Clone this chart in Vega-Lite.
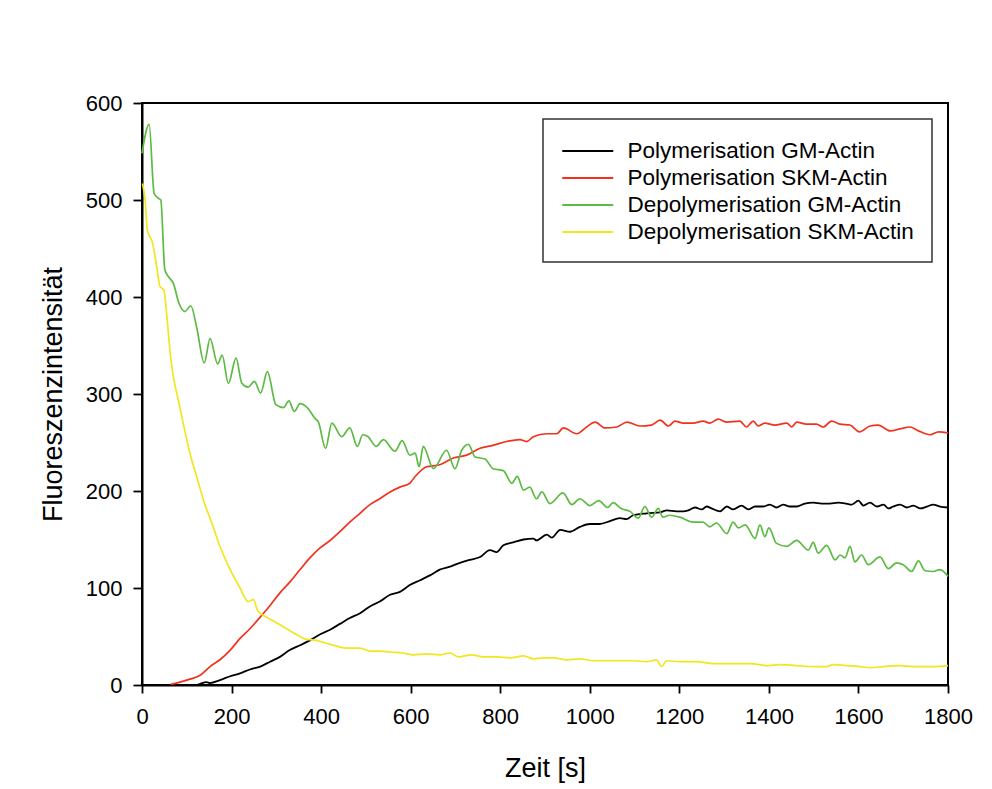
{
  "$schema": "https://vega.github.io/schema/vega-lite/v6.json",
  "width": 806,
  "height": 582,
  "autosize": {"type": "none"},
  "padding": {"left": 142, "top": 103, "right": 44, "bottom": 104},
  "background": "white",
  "config": {
    "font": "Liberation Sans",
    "view": {"stroke": "black", "strokeWidth": 2},
    "axis": {
      "grid": false,
      "domainColor": "black",
      "domainWidth": 2,
      "tickColor": "black",
      "tickWidth": 1.8,
      "labelColor": "black",
      "titleColor": "black",
      "labelFontSize": 22,
      "titleFontSize": 27,
      "titleFontWeight": "normal",
      "labelFont": "Liberation Sans",
      "titleFont": "Liberation Sans"
    },
    "legend": {
      "labelFont": "Liberation Sans"
    }
  },
  "encoding": {
    "x": {
      "field": "t",
      "type": "quantitative",
      "scale": {"domain": [0, 1800], "nice": false, "zero": false},
      "axis": {
        "title": "Zeit [s]",
        "format": "d",
        "values": [0, 200, 400, 600, 800, 1000, 1200, 1400, 1600, 1800],
        "tickSize": 8,
        "labelPadding": 13,
        "titlePadding": 28,
        "labelFlush": false,
        "labelOverlap": false
      }
    },
    "y": {
      "field": "v",
      "type": "quantitative",
      "scale": {"domain": [0, 600], "nice": false},
      "axis": {
        "title": "Fluoreszenzintensität",
        "format": "d",
        "values": [0, 100, 200, 300, 400, 500, 600],
        "tickSize": 9,
        "labelPadding": 11,
        "titlePadding": 18,
        "labelFlush": false,
        "labelOverlap": false
      }
    }
  },
  "layer": [
    {
      "data": {"values": [
        {"t":125,"v":0.5},{"t":129,"v":1},{"t":144,"v":3},{"t":152,"v":2},{"t":174,"v":5},{"t":197,"v":9},{"t":219,"v":12},{"t":241,"v":16},{"t":264,"v":19},{"t":286,"v":24},{"t":308,"v":29},{"t":330,"v":36},{"t":353,"v":41},{"t":375,"v":46},{"t":397,"v":52},{"t":420,"v":57},{"t":442,"v":63},{"t":464,"v":69},{"t":487,"v":74},{"t":509,"v":81},{"t":531,"v":86},{"t":554,"v":93},{"t":576,"v":96},{"t":598,"v":103},{"t":621,"v":108},{"t":643,"v":113},{"t":665,"v":119},{"t":688,"v":122},{"t":710,"v":126},{"t":732,"v":129},{"t":755,"v":132},{"t":777,"v":139},{"t":792,"v":137},{"t":807,"v":144},{"t":829,"v":147},{"t":852,"v":150},{"t":874,"v":151},{"t":881,"v":149},{"t":904,"v":155},{"t":915,"v":152},{"t":934,"v":160},{"t":956,"v":158},{"t":978,"v":163},{"t":1000,"v":166},{"t":1022,"v":166},{"t":1045,"v":169},{"t":1067,"v":172},{"t":1082,"v":171},{"t":1097,"v":175},{"t":1127,"v":177},{"t":1157,"v":178},{"t":1172,"v":180},{"t":1194,"v":179},{"t":1209,"v":179},{"t":1220,"v":180},{"t":1235,"v":183},{"t":1250,"v":181},{"t":1261,"v":184},{"t":1272,"v":182},{"t":1291,"v":179},{"t":1306,"v":184},{"t":1320,"v":181},{"t":1339,"v":185},{"t":1354,"v":181},{"t":1369,"v":184},{"t":1388,"v":184},{"t":1402,"v":186},{"t":1417,"v":183},{"t":1432,"v":186},{"t":1447,"v":184},{"t":1462,"v":184},{"t":1480,"v":187},{"t":1499,"v":188},{"t":1518,"v":187},{"t":1536,"v":187},{"t":1555,"v":188},{"t":1573,"v":187},{"t":1585,"v":186},{"t":1600,"v":190},{"t":1611,"v":185},{"t":1626,"v":188},{"t":1641,"v":184},{"t":1656,"v":186},{"t":1667,"v":182},{"t":1678,"v":184},{"t":1693,"v":186},{"t":1708,"v":183},{"t":1723,"v":185},{"t":1738,"v":182},{"t":1753,"v":184},{"t":1767,"v":186},{"t":1782,"v":184},{"t":1800,"v":183}
      ]},
      "mark": {"type": "line", "interpolate": "monotone", "strokeWidth": 1.8},
      "encoding": {
        "color": {
          "datum": "Polymerisation GM-Actin",
          "type": "nominal",
          "scale": {
            "domain": ["Polymerisation GM-Actin", "Polymerisation SKM-Actin", "Depolymerisation GM-Actin", "Depolymerisation SKM-Actin"],
            "range": ["#000000", "#f2321e", "#5dba43", "#f2e61e"]
          },
          "legend": {
            "title": null,
            "orient": "top-right",
            "offset": 16,
            "fillColor": "white",
            "strokeColor": "#333333",
            "padding": 18,
            "labelFontSize": 22.5,
            "labelColor": "black",
            "labelOffset": 38.5,
            "rowPadding": 1,
            "symbolType": "M-1,0H3",
            "symbolSize": 650,
            "symbolStrokeWidth": 1.8,
            "labelLimit": 400,
            "encode": {"legend": {"update": {"strokeWidth": {"value": 1.5}}}}
          }
        }
      }
    },
    {
      "data": {"values": [
        {"t":64,"v":0.7},{"t":77,"v":2},{"t":107,"v":6},{"t":130,"v":10},{"t":152,"v":19},{"t":174,"v":26},{"t":197,"v":36},{"t":219,"v":48},{"t":241,"v":58},{"t":264,"v":70},{"t":286,"v":82},{"t":308,"v":95},{"t":330,"v":106},{"t":353,"v":119},{"t":375,"v":131},{"t":397,"v":141},{"t":420,"v":149},{"t":442,"v":158},{"t":464,"v":168},{"t":487,"v":177},{"t":509,"v":186},{"t":531,"v":192},{"t":554,"v":199},{"t":576,"v":204},{"t":598,"v":208},{"t":610,"v":215},{"t":636,"v":225},{"t":665,"v":227},{"t":695,"v":234},{"t":725,"v":237},{"t":755,"v":244},{"t":784,"v":247},{"t":814,"v":251},{"t":844,"v":253},{"t":859,"v":251},{"t":874,"v":256},{"t":904,"v":259},{"t":926,"v":259},{"t":941,"v":265},{"t":971,"v":259},{"t":993,"v":266},{"t":1012,"v":271},{"t":1034,"v":265},{"t":1060,"v":266},{"t":1083,"v":271},{"t":1112,"v":267},{"t":1138,"v":268},{"t":1157,"v":273},{"t":1176,"v":267},{"t":1190,"v":272},{"t":1209,"v":270},{"t":1231,"v":270},{"t":1253,"v":272},{"t":1268,"v":270},{"t":1287,"v":274},{"t":1306,"v":271},{"t":1335,"v":272},{"t":1350,"v":266},{"t":1365,"v":272},{"t":1376,"v":267},{"t":1391,"v":270},{"t":1413,"v":268},{"t":1440,"v":270},{"t":1451,"v":266},{"t":1462,"v":271},{"t":1484,"v":269},{"t":1506,"v":269},{"t":1521,"v":266},{"t":1540,"v":272},{"t":1559,"v":269},{"t":1581,"v":268},{"t":1602,"v":261},{"t":1626,"v":267},{"t":1644,"v":268},{"t":1671,"v":262},{"t":1693,"v":264},{"t":1715,"v":266},{"t":1734,"v":262},{"t":1760,"v":258},{"t":1779,"v":261},{"t":1800,"v":260}
      ]},
      "mark": {"type": "line", "interpolate": "monotone", "strokeWidth": 1.7},
      "encoding": {"color": {"datum": "Polymerisation SKM-Actin", "type": "nominal"}}
    },
    {
      "data": {"values": [
        {"t":0,"v":548},{"t":16,"v":578},{"t":27,"v":507},{"t":36,"v":502},{"t":42,"v":500},{"t":51,"v":428},{"t":59,"v":421},{"t":70,"v":414},{"t":83,"v":393},{"t":96,"v":385},{"t":109,"v":391},{"t":122,"v":369},{"t":139,"v":332},{"t":152,"v":357},{"t":169,"v":331},{"t":179,"v":340},{"t":193,"v":311},{"t":210,"v":337},{"t":223,"v":311},{"t":237,"v":307},{"t":251,"v":313},{"t":265,"v":301},{"t":280,"v":323},{"t":299,"v":289},{"t":316,"v":286},{"t":328,"v":293},{"t":340,"v":282},{"t":353,"v":290},{"t":371,"v":285},{"t":386,"v":275},{"t":394,"v":271},{"t":410,"v":244},{"t":424,"v":270},{"t":446,"v":256},{"t":464,"v":265},{"t":481,"v":246},{"t":493,"v":258},{"t":505,"v":256},{"t":523,"v":246},{"t":539,"v":253},{"t":565,"v":241},{"t":581,"v":252},{"t":598,"v":237},{"t":610,"v":239},{"t":619,"v":225},{"t":628,"v":246},{"t":651,"v":223},{"t":680,"v":242},{"t":699,"v":223},{"t":714,"v":242},{"t":729,"v":248},{"t":744,"v":235},{"t":766,"v":233},{"t":784,"v":223},{"t":807,"v":221},{"t":826,"v":208},{"t":838,"v":215},{"t":852,"v":201},{"t":866,"v":204},{"t":881,"v":192},{"t":893,"v":199},{"t":911,"v":187},{"t":940,"v":198},{"t":960,"v":186},{"t":978,"v":192},{"t":1000,"v":185},{"t":1020,"v":190},{"t":1040,"v":183},{"t":1052,"v":188},{"t":1070,"v":182},{"t":1090,"v":179},{"t":1108,"v":172},{"t":1123,"v":184},{"t":1138,"v":173},{"t":1153,"v":182},{"t":1163,"v":173},{"t":1178,"v":175},{"t":1201,"v":173},{"t":1231,"v":168},{"t":1253,"v":168},{"t":1268,"v":163},{"t":1283,"v":167},{"t":1306,"v":156},{"t":1320,"v":168},{"t":1332,"v":162},{"t":1347,"v":165},{"t":1369,"v":151},{"t":1380,"v":165},{"t":1391,"v":153},{"t":1400,"v":162},{"t":1417,"v":146},{"t":1440,"v":143},{"t":1462,"v":149},{"t":1488,"v":139},{"t":1499,"v":147},{"t":1510,"v":136},{"t":1529,"v":144},{"t":1548,"v":129},{"t":1559,"v":134},{"t":1570,"v":131},{"t":1581,"v":143},{"t":1592,"v":127},{"t":1607,"v":134},{"t":1622,"v":124},{"t":1648,"v":132},{"t":1667,"v":120},{"t":1685,"v":126},{"t":1700,"v":124},{"t":1719,"v":117},{"t":1734,"v":128},{"t":1748,"v":118},{"t":1767,"v":117},{"t":1782,"v":119},{"t":1800,"v":112}
      ]},
      "mark": {"type": "line", "interpolate": "monotone", "strokeWidth": 1.7},
      "encoding": {"color": {"datum": "Depolymerisation GM-Actin", "type": "nominal"}}
    },
    {
      "data": {"values": [
        {"t":1,"v":517},{"t":7,"v":500},{"t":12,"v":469},{"t":24,"v":455},{"t":33,"v":431},{"t":40,"v":411},{"t":49,"v":407},{"t":55,"v":383},{"t":63,"v":342},{"t":70,"v":318},{"t":81,"v":294},{"t":92,"v":270},{"t":107,"v":239},{"t":122,"v":215},{"t":137,"v":191},{"t":156,"v":167},{"t":174,"v":143},{"t":197,"v":119},{"t":219,"v":100},{"t":237,"v":86},{"t":249,"v":88},{"t":258,"v":77},{"t":278,"v":70},{"t":301,"v":64},{"t":323,"v":58},{"t":345,"v":52},{"t":368,"v":47},{"t":390,"v":46},{"t":412,"v":43},{"t":435,"v":40},{"t":457,"v":38},{"t":487,"v":38},{"t":509,"v":35},{"t":531,"v":35},{"t":554,"v":34},{"t":583,"v":33},{"t":606,"v":31},{"t":636,"v":32},{"t":665,"v":31},{"t":688,"v":33},{"t":706,"v":29},{"t":736,"v":31},{"t":762,"v":29},{"t":792,"v":29},{"t":822,"v":28},{"t":852,"v":30},{"t":874,"v":27},{"t":896,"v":28},{"t":919,"v":28},{"t":949,"v":26},{"t":978,"v":27},{"t":1007,"v":25},{"t":1037,"v":25},{"t":1067,"v":25},{"t":1097,"v":25},{"t":1127,"v":24},{"t":1149,"v":26},{"t":1160,"v":19},{"t":1172,"v":25},{"t":1202,"v":24},{"t":1239,"v":24},{"t":1276,"v":22},{"t":1313,"v":22},{"t":1358,"v":22},{"t":1399,"v":20},{"t":1425,"v":21},{"t":1462,"v":20},{"t":1499,"v":19},{"t":1529,"v":19},{"t":1544,"v":21},{"t":1573,"v":20},{"t":1603,"v":19},{"t":1626,"v":18},{"t":1656,"v":19},{"t":1693,"v":20},{"t":1723,"v":19},{"t":1767,"v":19},{"t":1800,"v":20}
      ]},
      "mark": {"type": "line", "interpolate": "monotone", "strokeWidth": 1.7},
      "encoding": {"color": {"datum": "Depolymerisation SKM-Actin", "type": "nominal"}}
    }
  ]
}
